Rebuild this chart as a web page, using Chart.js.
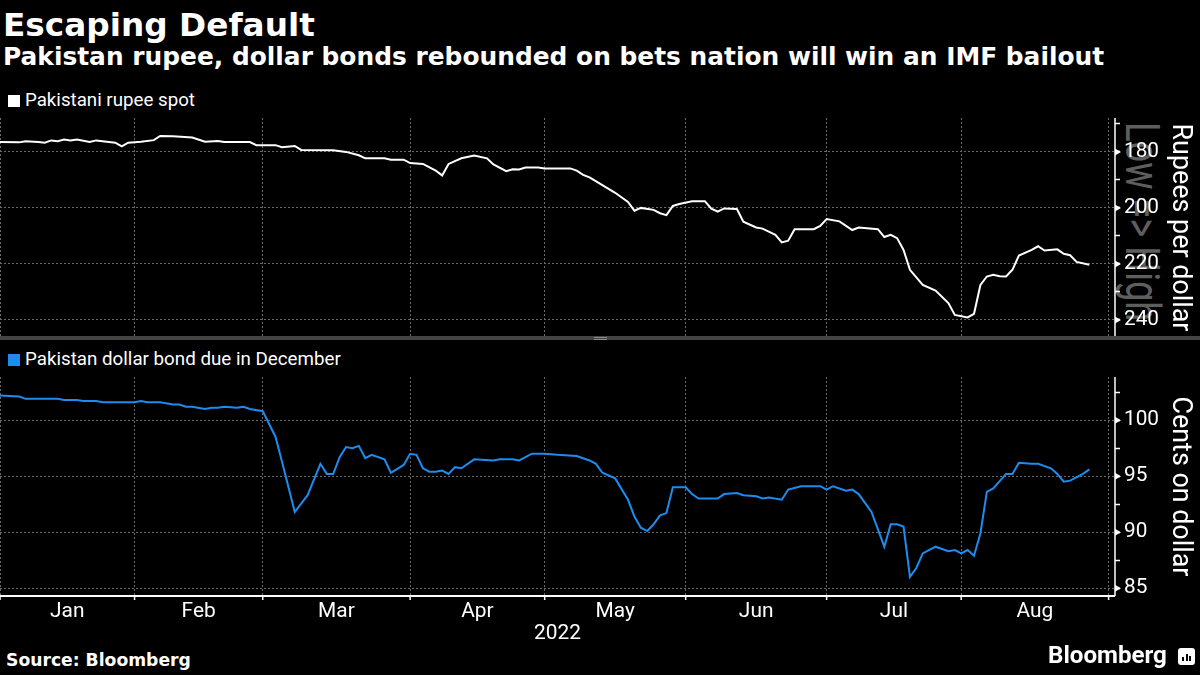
<!DOCTYPE html>
<html>
<head>
<meta charset="utf-8">
<script src="https://cdn.jsdelivr.net/npm/chart.js@4"></script>
<style>
  body { margin: 0; width: 1200px; height: 675px; background: #000; color: #fff; position: relative; overflow: hidden; }
  .txt { position: absolute; white-space: nowrap; line-height: 1; font-size: 20px; }
  .bold { font-family: 'DejaVu Sans', sans-serif; font-weight: bold; }
  .reg { font-family: Roboto, 'Liberation Sans', sans-serif; }
  .swatch { position: absolute; width: 12px; height: 12px; }
  canvas { position: absolute; left: 0; }
  #rupeeChart { top: 112px; }
  #bondChart { top: 371px; }
  #sep { position: absolute; left: 0; top: 336px; width: 1200px; height: 4px; background: #444; }
  #grip { position: absolute; left: 594px; top: 337px; width: 13px; height: 1px; border-top: 1px solid #8a8a8a; border-bottom: 1px solid #8a8a8a; }
  #mark { position: absolute; left: 1110px; top: 112px; width: 60px; height: 225px; overflow: hidden; }
  #mark span { position: absolute; top: 10px; color: #5e5e5e; font-family: Roboto, sans-serif; line-height: 1; white-space: nowrap; transform-origin: 0 0; }
  #logo { position: absolute; left: 1178px; top: 648px; width: 17px; height: 17px; background: #fff; border-radius: 3px; }
  #logo i { position: absolute; bottom: 4px; width: 2px; background: #000; }
</style>
</head>
<body>
  <div id="title" class="txt bold">Escaping Default</div>
  <div id="subtitle" class="txt bold">Pakistan rupee, dollar bonds rebounded on bets nation will win an IMF bailout</div>
  <div class="swatch" style="left:8px; top:95px; background:#fff"></div>
  <div id="leg1" class="txt reg">Pakistani rupee spot</div>
  <div id="mark"><span>Low =&gt; High</span></div>
  <canvas id="rupeeChart" width="1200" height="225"></canvas>
  <div id="sep"></div><div id="grip"></div>
  <div class="swatch" style="left:8px; top:354px; background:#1c8cf0"></div>
  <div id="leg2" class="txt reg">Pakistan dollar bond due in December</div>
  <canvas id="bondChart" width="1200" height="279"></canvas>
  <div id="source" class="txt bold">Source: Bloomberg</div>
  <div id="brand" class="txt reg" style="font-weight:bold">Bloomberg</div>
  <div id="logo"><i style="left:4px;height:4px"></i><i style="left:7.5px;height:7px"></i><i style="left:11px;height:5px"></i></div>

<script>
// x positions are trading days counted from Mon 3 Jan 2022
const monthNames = ['Jan', 'Feb', 'Mar', 'Apr', 'May', 'Jun', 'Jul', 'Aug'];
const monthStarts = [0, 21, 41, 64, 85, 107, 129, 150, 173];
const yearLabel = '2022';

const rupeeMajor = [180, 200, 220, 240];
const rupeeMinor = [170, 190, 210, 230];
const bondMajor = [85, 90, 95, 100];
const bondMinor = [87.5, 92.5, 97.5, 102.5];

const rupeeDays = [0, 3, 4, 6, 7, 8, 9, 10, 11, 12, 14, 15, 18, 19, 20, 22, 24, 25, 27, 30,
  32, 34, 35, 39, 40, 43, 44, 46, 47, 52, 54, 56, 57, 60, 61, 63, 64, 66, 68, 69,
  70, 72, 74, 76, 77, 79, 80, 81, 82, 84, 85, 89, 90, 91, 92, 94, 96, 98, 99, 100,
  102, 103, 104, 105, 106, 108, 110, 111, 112, 113, 115, 116, 118, 119, 121, 122, 123, 124, 127, 128,
  129, 131, 133, 134, 137, 138, 139, 140, 141, 142, 144, 146, 148, 149, 151, 152, 153, 154, 155, 156,
  157, 158, 159, 161, 162, 163, 165, 166, 167, 168, 170];
const rupeeValues = [176.5, 176.6, 176.2, 176.5, 176.7, 175.9, 176.2, 175.6, 175.9, 175.6,
  176.5, 175.9, 176.7, 178.0, 176.7, 176.4, 175.8, 174.3, 174.4, 174.9,
  176.4, 176.1, 176.5, 176.5, 177.6, 177.6, 178.3, 177.9, 179.3, 179.4,
  180.0, 181.2, 182.3, 182.3, 182.8, 182.8, 184.0, 184.3, 186.7, 188.4,
  184.3, 182.3, 181.3, 182.3, 184.5, 186.9, 186.2, 186.3, 185.6, 185.6,
  185.9, 185.9, 186.7, 188.2, 189.1, 191.9, 194.6, 197.9, 201.0, 200.0,
  200.7, 201.9, 202.6, 199.3, 198.6, 197.6, 197.6, 200.3, 201.3, 200.2,
  200.4, 204.9, 207.0, 207.4, 209.6, 212.3, 211.7, 207.6, 207.6, 206.4,
  204.0, 204.8, 207.9, 207.0, 207.6, 210.4, 209.6, 210.8, 215.0, 222.1,
  227.5, 229.5, 234.0, 238.2, 239.1, 237.8, 227.5, 224.5, 223.9, 224.4,
  224.5, 222.1, 217.0, 215.0, 213.7, 215.2, 214.8, 216.4, 216.9, 219.3, 220.3];

const bondDays = [0, 3, 4, 9, 10, 12, 13, 15, 16, 21, 22, 23, 25, 27, 28, 29, 30, 32, 33, 34,
  35, 37, 38, 39, 41, 43, 44, 46, 48, 50, 51, 52, 53, 54, 55, 56, 57, 58, 60, 61,
  63, 64, 65, 66, 67, 68, 69, 70, 71, 72, 74, 77, 78, 80, 81, 82, 83, 85, 87, 90,
  91, 92, 93, 94, 96, 98, 99, 100, 101, 102, 103, 104, 105, 107, 108, 109, 110, 112, 113, 115,
  116, 118, 119, 120, 122, 123, 125, 128, 129, 130, 132, 133, 134, 136, 138, 139, 140, 141, 142, 143,
  144, 146, 148, 149, 150, 151, 152, 153, 154, 155, 157, 158, 159, 161, 162, 164, 165, 166, 167, 169, 170];
const bondValues = [102.2, 102.1, 101.9, 101.9, 101.8, 101.8, 101.7, 101.7, 101.6, 101.6,
  101.7, 101.6, 101.6, 101.4, 101.4, 101.2, 101.2, 101.0, 101.1, 101.1,
  101.2, 101.1, 101.2, 101.0, 100.8, 98.5, 96.3, 91.8, 93.3, 96.1,
  95.2, 95.2, 96.7, 97.6, 97.5, 97.7, 96.6, 96.9, 96.5, 95.3,
  96.0, 97.0, 96.9, 95.7, 95.4, 95.4, 95.5, 95.2, 95.8, 95.7,
  96.5, 96.4, 96.5, 96.5, 96.4, 96.7, 97.0, 97.0, 96.9, 96.8,
  96.6, 96.4, 96.1, 95.3, 94.8, 92.9, 91.4, 90.4, 90.1, 90.7,
  91.5, 91.7, 94.0, 94.0, 93.4, 93.0, 93.0, 93.0, 93.4, 93.5,
  93.3, 93.2, 93.0, 93.1, 92.9, 93.8, 94.1, 94.1, 93.8, 94.1,
  93.7, 93.8, 93.4, 91.8, 88.7, 90.7, 90.7, 90.5, 86.0, 86.8,
  88.1, 88.7, 88.3, 88.4, 88.1, 88.4, 87.9, 89.9, 93.6, 93.9,
  95.2, 95.2, 96.2, 96.1, 96.1, 95.7, 95.2, 94.5, 94.6, 95.2, 95.6];

const FONT = "Roboto, 'Liberation Sans', sans-serif";
const GRID = '#6a6a6a';
const AXIS_W = 85;

// font size that makes a text a given width
function fitPx(text, weight, family, width) {
  const ctx = document.createElement('canvas').getContext('2d');
  ctx.font = weight + ' 100px ' + family;
  return 100 * width / ctx.measureText(text).width;
}

function place(id, x, baseline, width) {
  const el = document.getElementById(id);
  const cs = getComputedStyle(el);
  const px = fitPx(el.textContent, cs.fontWeight, cs.fontFamily, width);
  el.style.fontSize = px + 'px';
  el.style.left = x + 'px';
  el.style.top = (baseline - 0.845 * px) + 'px';
}

place('title', 3, 37, 312);
place('subtitle', 3, 66, 1102);
place('leg1', 25, 107, 170);
place('leg2', 25, 366, 316);
place('source', 6, 667, 185);
place('brand', 1048, 663, 119);

const mark = document.querySelector('#mark span');
mark.style.fontSize = '49px';
mark.style.left = '57px';
mark.style.transform = 'rotate(90deg) scaleX(0.74)';

const tickPx = fitPx('180', 'normal', FONT, 35);
const monthPx = fitPx(yearLabel, 'normal', FONT, 47);

const monthMids = monthNames.map((m, i) => (monthStarts[i] + monthStarts[i + 1]) / 2);
const xTickValues = monthStarts.concat(monthMids).sort((a, b) => a - b);

function points(days, values) {
  return days.map((d, i) => ({ x: d, y: values[i] }));
}

function monthAxis(showLabels) {
  return {
    type: 'linear',
    min: 0,
    max: 174,
    afterBuildTicks: (s) => { s.ticks = xTickValues.map((v) => ({ value: v })); },
    afterFit: (s) => {
      s.height = showLabels ? 54 : 0;
      s.paddingLeft = 0;
      s.paddingRight = 0;
    },
    border: { display: false, dash: [2, 2] },
    grid: {
      color: (c) => (c.tick && monthStarts.includes(c.tick.value) ? GRID : 'transparent'),
      drawTicks: false,
    },
    ticks: {
      display: showLabels,
      autoSkip: false,
      maxRotation: 0,
      padding: 3,
      color: '#fff',
      font: { family: FONT, size: monthPx },
      callback: (v) => {
        const i = monthMids.indexOf(v);
        return i >= 0 ? monthNames[i] : '';
      },
    },
    title: {
      display: showLabels,
      text: yearLabel,
      color: '#fff',
      font: { family: FONT, size: monthPx },
      padding: { top: 0, bottom: 4 },
    },
  };
}

function valueAxis(o) {
  const all = o.major.concat(o.minor).sort((a, b) => a - b);
  return {
    type: 'linear',
    position: 'right',
    min: o.min,
    max: o.max,
    reverse: !!o.reverse,
    afterBuildTicks: (s) => { s.ticks = all.map((v) => ({ value: v })); },
    afterFit: (s) => {
      s.width = AXIS_W;
      s.paddingTop = 0;
      s.paddingBottom = 0;
    },
    border: { display: false, dash: [2, 2] },
    grid: {
      color: (c) => (c.tick && o.major.includes(c.tick.value) ? GRID : 'transparent'),
      tickColor: '#fff',
      tickLength: 5,
      tickWidth: 1.5,
    },
    ticks: {
      color: '#fff',
      padding: 4,
      font: { family: FONT, size: tickPx },
      callback: (v) => (o.major.includes(v) ? String(v) : ''),
    },
    title: {
      display: true,
      text: o.title,
      color: '#fff',
      font: { family: FONT, size: fitPx(o.title, 'normal', FONT, o.titleWidth) },
      padding: { top: 4, bottom: 4 },
    },
  };
}

// solid axis lines plus the little pointers at labelled ticks
const axisLines = {
  id: 'axisLines',
  afterDraw(chart, args, opts) {
    const { ctx, chartArea: a, scales } = chart;
    ctx.save();
    ctx.strokeStyle = '#fff';
    ctx.fillStyle = '#fff';
    ctx.lineWidth = 1.5;
    ctx.beginPath();
    ctx.moveTo(a.right, a.top);
    ctx.lineTo(a.right, a.bottom);
    ctx.stroke();
    opts.major.forEach((v) => {
      const y = scales.y.getPixelForValue(v);
      ctx.beginPath();
      ctx.moveTo(a.right, y - 3.5);
      ctx.lineTo(a.right + 6, y);
      ctx.lineTo(a.right, y + 3.5);
      ctx.fill();
    });
    if (opts.baseline) {
      ctx.lineWidth = 2;
      ctx.beginPath();
      ctx.moveTo(a.left, a.bottom);
      ctx.lineTo(a.right, a.bottom);
      ctx.stroke();
      ctx.lineWidth = 1.5;
      monthStarts.forEach((d) => {
        const x = scales.x.getPixelForValue(d);
        ctx.beginPath();
        ctx.moveTo(x, a.bottom);
        ctx.lineTo(x, a.bottom + 4);
        ctx.stroke();
      });
    }
    ctx.restore();
  },
};

function baseOptions() {
  return {
    responsive: false,
    animation: false,
    events: [],
    layout: { padding: { top: 6, left: 0, right: 0, bottom: 0 } },
    plugins: { legend: { display: false }, tooltip: { enabled: false } },
  };
}

const rupeeOpts = baseOptions();
rupeeOpts.plugins.axisLines = { major: rupeeMajor, baseline: false };
rupeeOpts.scales = {
  x: monthAxis(false),
  y: valueAxis({ min: 167.9, max: 246.1, reverse: true, major: rupeeMajor, minor: rupeeMinor,
    title: 'Rupees per dollar', titleWidth: 208 }),
};

new Chart(document.getElementById('rupeeChart'), {
  type: 'line',
  data: {
    datasets: [{
      label: 'Pakistani rupee spot',
      data: points(rupeeDays, rupeeValues),
      borderColor: '#ffffff',
      borderWidth: 2,
      pointRadius: 0,
      tension: 0,
    }],
  },
  options: rupeeOpts,
  plugins: [axisLines],
});

const bondOpts = baseOptions();
bondOpts.plugins.axisLines = { major: bondMajor, baseline: true };
bondOpts.scales = {
  x: monthAxis(true),
  y: valueAxis({ min: 84.3, max: 103.85, major: bondMajor, minor: bondMinor,
    title: 'Cents on dollar', titleWidth: 180 }),
};

new Chart(document.getElementById('bondChart'), {
  type: 'line',
  data: {
    datasets: [{
      label: 'Pakistan dollar bond due in December',
      data: points(bondDays, bondValues),
      borderColor: '#1c8cf0',
      borderWidth: 2,
      pointRadius: 0,
      tension: 0,
    }],
  },
  options: bondOpts,
  plugins: [axisLines],
});
</script>
</body>
</html>
